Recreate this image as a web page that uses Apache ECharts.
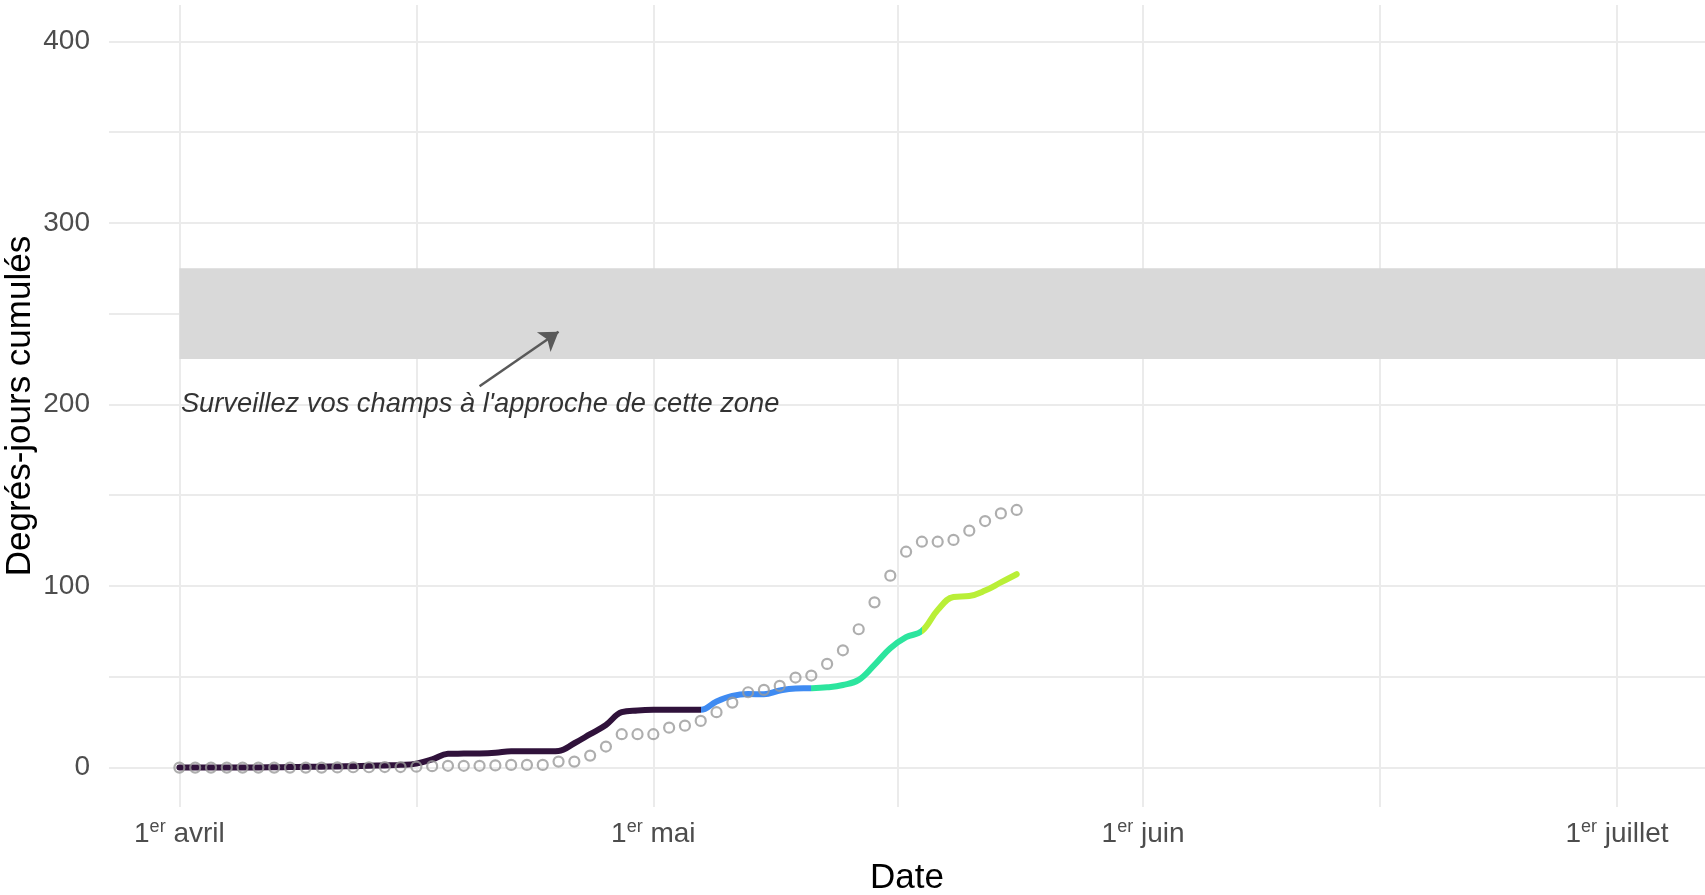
<!DOCTYPE html>
<html><head><meta charset="utf-8">
<script src="https://cdn.jsdelivr.net/npm/echarts@6/dist/echarts.min.js"></script>
<style>html,body{margin:0;padding:0;background:#fff}#c{width:1705px;height:895px}</style>
</head><body><div id="c"></div>
<script>
// ---- data ----
const dates = [
 '2024-04-01','2024-04-02','2024-04-03','2024-04-04','2024-04-05','2024-04-06','2024-04-07','2024-04-08','2024-04-09','2024-04-10',
 '2024-04-11','2024-04-12','2024-04-13','2024-04-14','2024-04-15','2024-04-16','2024-04-17','2024-04-18','2024-04-19','2024-04-20',
 '2024-04-21','2024-04-22','2024-04-23','2024-04-24','2024-04-25','2024-04-26','2024-04-27','2024-04-28','2024-04-29','2024-04-30',
 '2024-05-01','2024-05-02','2024-05-03','2024-05-04','2024-05-05','2024-05-06','2024-05-07','2024-05-08','2024-05-09','2024-05-10',
 '2024-05-11','2024-05-12','2024-05-13','2024-05-14','2024-05-15','2024-05-16','2024-05-17','2024-05-18','2024-05-19','2024-05-20',
 '2024-05-21','2024-05-22','2024-05-23','2024-05-24'];
const cumulDD = [
 0,0,0,0,0.1,0.1,0.2,0.3,0.4,0.5,
 0.6,0.8,1.0,1.2,1.5,2.2,4.5,7.6,7.7,7.8,
 8.2,9.0,9.0,9.0,9.2,13.4,18.4,23.5,30.5,31.5,
 31.8,31.8,31.8,31.8,36.4,39.5,40.5,40.4,42.5,43.6,
 43.7,44.2,45.5,48.3,56.6,65.7,71.8,75.2,86.8,94.0,
 94.5,97.5,102.0,106.5];
const normalDD = [
 0,0,0,0,0,0,0,0,0,0,
 0.1,0.2,0.2,0.3,0.3,0.5,0.8,1.0,1.0,1.0,
 1.2,1.5,1.5,1.5,3.3,3.3,6.6,11.6,18.4,18.4,
 18.4,22.0,23.1,25.7,30.5,35.8,41.5,42.8,45.0,49.6,
 50.7,57.1,64.6,76.2,91.0,105.7,118.9,124.4,124.4,125.4,
 130.5,135.8,140.0,141.9];
const segmentEnds = ['2024-05-04','2024-05-11','2024-05-18'];
const segmentColors = ['#30123B','#3F8BF2','#2CE59E','#B9EF37'];
const yTicks = [0,100,200,300,400];
const yGrid = [0,50,100,150,200,250,300,350,400];
const xTickDates = ['2024-04-01','2024-05-01','2024-06-01','2024-07-01'];
const xTickMonths = ['avril','mai','juin','juillet'];
const xMinorDates = ['2024-04-16','2024-05-16T12:00','2024-06-16'];
const band = [225, 275];
const bandStart = '2024-04-01';
const noteText = "Surveillez vos champs à l'approche de cette zone";
const notePos = ['2024-04-01', 200];
const arrowFrom = ['2024-04-20', 210];
const arrowTo = ['2024-04-25', 240];

// ---- helpers: dates -> days since 1 April ----
const ORIGIN = Date.UTC(2024, 3, 1);
function day(s){
  const parts = s.split('T');
  const d = parts[0].split('-').map(Number);
  let hh = 0, mm = 0;
  if (parts[1]) { const h = parts[1].split(':').map(Number); hh = h[0]; mm = h[1]; }
  return (Date.UTC(d[0], d[1]-1, d[2], hh, mm) - ORIGIN) / 86400000;
}
const xMin = -4.456;
const xMax = 96.57;
const FONT = 'Liberation Sans, Arial, sans-serif';

const majorX = xTickDates.map(day);
const chart = echarts.init(document.getElementById('c'), null, {renderer:'canvas'});
chart.setOption({
  animation: false,
  backgroundColor: '#ffffff',
  textStyle: {fontFamily: FONT},
  grid: {left: 109, right: 0, top: 5, bottom: 88, containLabel: false, outerBoundsMode: 'none'},
  xAxis: {
    type: 'value', min: xMin, max: xMax,
    axisLine: {show: false}, axisTick: {show: false, customValues: majorX.concat(xMinorDates.map(day))},
    splitLine: {show: true, lineStyle: {color: '#ebebeb', width: 2}},
    axisLabel: {
      customValues: majorX, margin: 11, fontSize: 28, color: '#4d4d4d', fontFamily: FONT,
      formatter: function(v){
        let idx = 0, best = Infinity;
        majorX.forEach((m,i)=>{ const dd = Math.abs(m - v); if (dd < best){best = dd; idx = i;} });
        return '{n|1}{s|er}{n| ' + xTickMonths[idx] + '}';
      },
      rich: {
        n: {fontSize: 28, color: '#4d4d4d', fontFamily: FONT, lineHeight: 32},
        s: {fontSize: 18, color: '#4d4d4d', fontFamily: FONT, lineHeight: 18, verticalAlign: 'top'}
      }
    },
    name: 'Date', nameLocation: 'middle', nameGap: 54, nameMoveOverlap: false,
    nameTextStyle: {fontSize: 35, color: '#000', fontFamily: FONT}
  },
  yAxis: {
    type: 'value', min: -21.7, max: 420,
    axisLine: {show: false}, axisTick: {show: false, customValues: yGrid},
    splitLine: {show: true, lineStyle: {color: '#ebebeb', width: 2}},
    axisLabel: {customValues: yTicks, margin: 19, fontSize: 28, color: '#4d4d4d', fontFamily: FONT},
    name: 'Degrés-jours cumulés', nameLocation: 'middle', nameGap: 71, nameMoveOverlap: false,
    nameTextStyle: {fontSize: 35, color: '#000', fontFamily: FONT}
  },
  visualMap: {
    show: false, type: 'piecewise', seriesIndex: 1, dimension: 0,
    pieces: [
      {lte: day(segmentEnds[0]), color: segmentColors[0]},
      {gt: day(segmentEnds[0]), lte: day(segmentEnds[1]), color: segmentColors[1]},
      {gt: day(segmentEnds[1]), lte: day(segmentEnds[2]), color: segmentColors[2]},
      {gt: day(segmentEnds[2]), color: segmentColors[3]}
    ]
  },
  series: [
    {
      type: 'scatter', z: 2, silent: true,
      data: [[day(notePos[0]), notePos[1]]],
      symbol: 'circle', symbolSize: 1, itemStyle: {color: 'rgba(0,0,0,0)'},
      label: {show: true, position: 'right', distance: 1, formatter: noteText,
        fontSize: 27.3, fontStyle: 'italic', color: '#000', fontFamily: FONT},
      markArea: {silent: true, itemStyle: {color: '#d9d9d9'},
        data: [[{coord: [day(bandStart), band[0]]}, {coord: [xMax, band[1]]}]]},
      markLine: {silent: true, symbol: ['none','arrow'], symbolSize: 18,
        lineStyle: {color: '#595959', width: 2.5, type: 'solid'}, label: {show: false},
        data: [[{coord: [day(arrowFrom[0]), arrowFrom[1]]}, {coord: [day(arrowTo[0]), arrowTo[1]]}]]}
    },
    {
      type: 'line', z: 3, silent: true, showSymbol: false, smooth: 0.4,
      data: dates.map((d,i)=>[day(d), cumulDD[i]]),
      lineStyle: {width: 6, cap: 'round', join: 'round'}
    },
    {
      type: 'scatter', z: 4, silent: true, symbol: 'circle', symbolSize: 10,
      data: dates.map((d,i)=>[day(d), normalDD[i]]),
      itemStyle: {color: 'rgba(255,255,255,0)', borderColor: '#9a9a9a', borderWidth: 2.2}
    }
  ]
});
</script></body></html>
